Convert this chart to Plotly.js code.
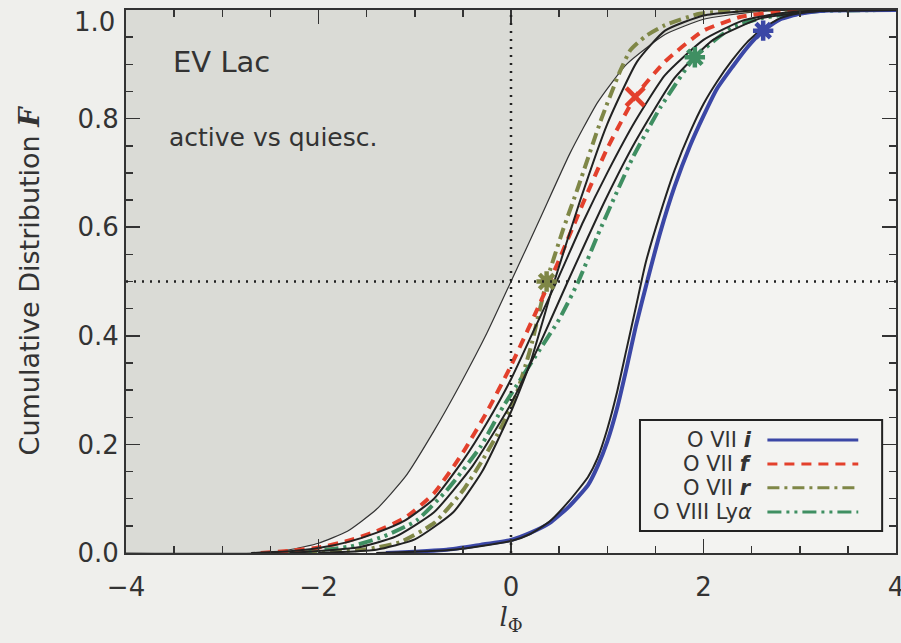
<!DOCTYPE html>
<html>
<head>
<meta charset="utf-8">
<script src="https://cdn.plot.ly/plotly-3.0.1.min.js"></script>
<style>html,body{margin:0;padding:0;background:#efefec;}</style>
</head>
<body>
<div id="chart" style="width:901px;height:643px;"></div>
<script>
// Reference (thin) curve bounding the shaded region
const refX = [-4, -2.6, -2.3, -2.0, -1.7, -1.4, -1.1, -0.8, -0.53, -0.25, 0, 0.3, 0.61, 0.9, 1.2, 1.6, 2.0, 2.5, 3.0, 4];
const refF = [0, 0, 0.006, 0.018, 0.04, 0.08, 0.14, 0.225, 0.31, 0.405, 0.5, 0.615, 0.735, 0.83, 0.9, 0.955, 0.983, 0.996, 1, 1];

// O VII i (blue, solid)
const iX = [-1.3, -0.67, -0.32, 0, 0.2, 0.4, 0.6, 0.8, 0.9, 1.0, 1.1, 1.2, 1.3, 1.41, 1.55, 1.7, 1.86, 2.0, 2.14, 2.3, 2.45, 2.62, 2.8, 3.0, 3.3, 4];
const iF = [0, 0.006, 0.015, 0.024, 0.037, 0.055, 0.085, 0.125, 0.16, 0.205, 0.265, 0.34, 0.42, 0.497, 0.59, 0.675, 0.75, 0.805, 0.855, 0.895, 0.93, 0.962, 0.983, 0.993, 0.999, 1];
const iModelX = [-1.4, -0.6, 0, 0.2, 0.4, 0.6, 0.8, 0.9, 1.0, 1.1, 1.2, 1.3, 1.4, 1.55, 1.7, 1.86, 2.0, 2.14, 2.3, 2.45, 2.62, 2.8, 3.0, 3.3, 4];
const iModelF = [0, 0.006, 0.022, 0.035, 0.058, 0.095, 0.14, 0.175, 0.228, 0.295, 0.375, 0.455, 0.535, 0.625, 0.705, 0.775, 0.827, 0.868, 0.908, 0.94, 0.967, 0.985, 0.994, 0.999, 1];

// O VII f (red, dashed)
const fX = [-2.6, -2.3, -2.0, -1.7, -1.4, -1.1, -0.8, -0.5, -0.25, 0, 0.25, 0.5, 0.75, 1.0, 1.29, 1.6, 2.0, 2.4, 2.8, 3.2, 4];
const fF = [0, 0.004, 0.01, 0.022, 0.04, 0.065, 0.11, 0.185, 0.26, 0.345, 0.44, 0.54, 0.645, 0.745, 0.84, 0.905, 0.962, 0.988, 0.997, 1, 1];
const fModelX = [-2.7, -2.3, -2.0, -1.7, -1.4, -1.1, -0.8, -0.5, -0.25, 0, 0.25, 0.5, 0.75, 1.0, 1.29, 1.6, 2.0, 2.4, 2.8, 3.2, 4];
const fModelF = [0, 0.003, 0.009, 0.02, 0.037, 0.06, 0.1, 0.17, 0.24, 0.32, 0.415, 0.51, 0.61, 0.7, 0.795, 0.88, 0.945, 0.98, 0.994, 0.999, 1];

// O VII r (olive, dash-dot)
const rX = [-2.4, -1.8, -1.5, -1.15, -0.8, -0.5, -0.3, -0.1, 0.05, 0.2, 0.37, 0.54, 0.7, 0.94, 1.13, 1.24, 1.4, 1.6, 1.96, 2.5, 4];
const rF = [0, 0.003, 0.007, 0.02, 0.055, 0.115, 0.17, 0.232, 0.29, 0.375, 0.5, 0.595, 0.675, 0.8, 0.886, 0.926, 0.952, 0.972, 0.993, 1, 1];
const rModelX = [-2.0, -1.4, -1.0, -0.6, -0.3, 0, 0.2, 0.45, 0.72, 1.0, 1.31, 1.6, 2.0, 2.6, 4];
const rModelF = [0, 0.006, 0.025, 0.075, 0.15, 0.26, 0.35, 0.5, 0.65, 0.79, 0.905, 0.962, 0.99, 1, 1];

// O VIII Ly-alpha (green, dash-dot-dot)
const lyX = [-2.3, -1.67, -1.33, -0.98, -0.67, -0.32, -0.08, 0.1, 0.3, 0.5, 0.7, 0.9, 1.1, 1.27, 1.55, 1.91, 2.3, 2.6, 3.2, 4];
const lyF = [0, 0.012, 0.03, 0.06, 0.115, 0.195, 0.27, 0.32, 0.375, 0.43, 0.5, 0.585, 0.665, 0.73, 0.82, 0.913, 0.968, 0.985, 0.998, 1];
const lyModelX = [-2.3, -1.6, -1.2, -0.8, -0.4, 0, 0.3, 0.59, 0.98, 1.3, 1.7, 2.1, 2.6, 3.2, 4];
const lyModelF = [0, 0.01, 0.03, 0.075, 0.16, 0.275, 0.385, 0.5, 0.65, 0.76, 0.875, 0.945, 0.985, 0.998, 1];

// marker points on each curve
const markX = {i: [2.62], f: [1.29], r: [0.37], ly: [1.91]};
const markF = {i: [0.962], f: [0.84], r: [0.5], ly: [0.913]};

// axis ticks
const yTickVals = [0, 0.2, 0.4, 0.6, 0.8, 1.0];
const yTickText = ['0.0', '0.2', '0.4', '0.6', '0.8', ''];
const yTopLabel = '1.0';

// legend labels
const legendLabels = ['O VII <b><i>i</i></b>', 'O VII <b><i>f</i></b>', 'O VII <b><i>r</i></b>', 'O VIII Ly<i>α</i>'];

const colBlue = '#3b47a6', colRed = '#e3402c', colOlive = '#7f8747', colGreen = '#3f8f62';
const dashF = '10px,7px', dashR = '12px,5px,3px,5px', dashLy = '14px,5px,3px,5px,3px,5px';

const traces = [];
traces.push({x: [-4, 4], y: [1, 1], mode: 'lines', line: {width: 0, color: 'rgba(0,0,0,0)'}, hoverinfo: 'skip', showlegend: false});
traces.push({x: refX, y: refF, mode: 'lines', fill: 'tonexty', fillcolor: '#dadbd6',
  line: {color: '#333', width: 1.2, shape: 'spline', smoothing: 0.5}, showlegend: false});

function curve(x, y, color, width, dash) {
  return {x: x, y: y, mode: 'lines', line: {color: color, width: width, dash: dash, shape: 'spline', smoothing: 0.5}, showlegend: false};
}
traces.push(curve(rX, rF, colOlive, 4, dashR));
traces.push(curve(lyX, lyF, colGreen, 4, dashLy));
traces.push(curve(fX, fF, colRed, 4, dashF));
traces.push(curve(iX, iF, colBlue, 4, 'solid'));
traces.push(curve(rModelX, rModelF, '#222', 2, 'solid'));
traces.push(curve(fModelX, fModelF, '#222', 2, 'solid'));
traces.push(curve(lyModelX, lyModelF, '#222', 2, 'solid'));
traces.push(curve(iModelX, iModelF, '#222', 2, 'solid'));

function mark(x, y, color, sym, size) {
  return {x: x, y: y, mode: 'markers', marker: {symbol: sym, size: size, color: color, line: {color: color, width: 4.5}}, showlegend: false};
}
traces.push(mark(markX.f, markF.f, colRed, 'x-thin-open', 18));
traces.push(mark(markX.r, markF.r, colOlive, 'asterisk-open', 17));
traces.push(mark(markX.ly, markF.ly, colGreen, 'asterisk-open', 17));
traces.push(mark(markX.i, markF.i, colBlue, 'asterisk-open', 17));

const font = 'DejaVu Sans, sans-serif';
const axisCommon = {
  showline: true, linewidth: 2, linecolor: '#333', mirror: 'allticks',
  ticks: 'inside', ticklen: 14, tickwidth: 1.5, tickcolor: '#333',
  showgrid: false, zeroline: false, ticklabeloverflow: 'allow',
  tickfont: {family: font, size: 26, color: '#333'}
};

const legY = [0.208, 0.164, 0.12, 0.0755];
const legColors = [colBlue, colRed, colOlive, colGreen];
const legDash = ['solid', dashF, dashR, dashLy];
const shapes = [
  {type: 'line', xref: 'x', yref: 'paper', x0: 0, x1: 0, y0: 0, y1: 1, line: {color: '#222', width: 2.5, dash: '2px,6px'}},
  {type: 'line', xref: 'paper', yref: 'y', x0: 0, x1: 1, y0: 0.5, y1: 0.5, line: {color: '#222', width: 2.5, dash: '2px,6px'}},
  {type: 'rect', xref: 'paper', yref: 'paper', x0: 0.6675, x1: 0.982, y0: 0.0405, y1: 0.245, line: {color: '#222', width: 2}, fillcolor: 'rgba(0,0,0,0)'}
];
const annotations = [
  {text: 'EV Lac', xref: 'paper', yref: 'paper', x: 0.059, y: 0.905, xanchor: 'left', yanchor: 'middle', showarrow: false, font: {family: font, size: 29, color: '#333'}},
  {text: 'active vs quiesc.', xref: 'paper', yref: 'paper', x: 0.053, y: 0.766, xanchor: 'left', yanchor: 'middle', showarrow: false, font: {family: font, size: 25, color: '#333'}},
  {text: yTopLabel, xref: 'paper', yref: 'y', x: 0, y: 1.0, xanchor: 'right', yanchor: 'middle', xshift: -9, yshift: -12, showarrow: false, font: {family: font, size: 26, color: '#333'}}
];
for (let k = 0; k < 4; k++) {
  shapes.push({type: 'line', xref: 'paper', yref: 'paper', x0: 0.833, x1: 0.951, y0: legY[k], y1: legY[k], line: {color: legColors[k], width: 3, dash: legDash[k]}});
  annotations.push({text: legendLabels[k], xref: 'paper', yref: 'paper', x: 0.815, y: legY[k], xanchor: 'right', yanchor: 'middle', showarrow: false, font: {family: font, size: 21, color: '#333'}});
}

const layout = {
  width: 901, height: 643,
  margin: {l: 126, r: 5, t: 10, b: 90},
  paper_bgcolor: '#efefec', plot_bgcolor: '#f3f3f1',
  showlegend: false,
  xaxis: Object.assign({}, axisCommon, {
    range: [-4, 4], tick0: -4, dtick: 2, ticklabelstandoff: 10,
    minor: {dtick: 0.5, ticks: 'inside', ticklen: 7, tickwidth: 1.5, tickcolor: '#333'},
    title: {text: '<i>l</i><sub>Φ</sub>', font: {family: 'DejaVu Serif, serif', size: 26, color: '#333'}, standoff: 2}
  }),
  yaxis: Object.assign({}, axisCommon, {
    range: [0, 1], tickvals: yTickVals, ticktext: yTickText,
    minor: {dtick: 0.05, ticks: 'inside', ticklen: 7, tickwidth: 1.5, tickcolor: '#333'},
    title: {text: 'Cumulative Distribution <b><i><span style="font-family:DejaVu Serif">F</span></i></b>', font: {family: font, size: 27, color: '#333'}, standoff: 30}
  }),
  shapes: shapes,
  annotations: annotations
};

Plotly.newPlot('chart', traces, layout, {displayModeBar: false, staticPlot: true});
</script>
</body>
</html>
